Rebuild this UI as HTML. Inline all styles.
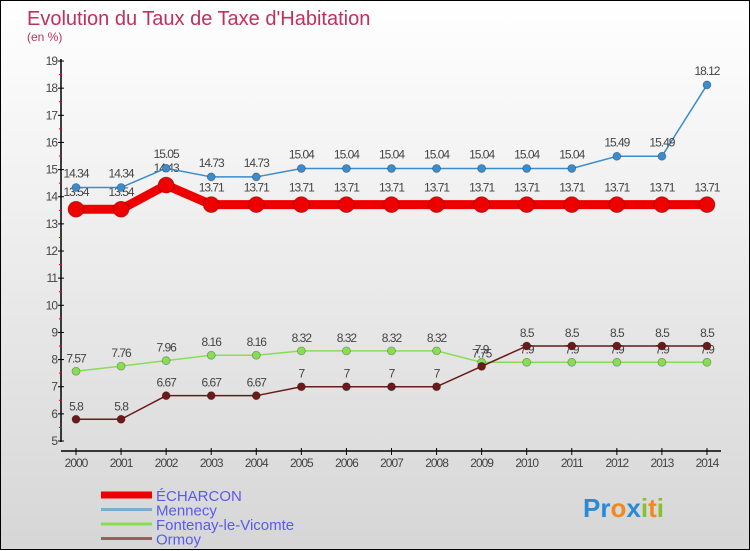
<!DOCTYPE html>
<html><head><meta charset="utf-8"><style>
body{margin:0;}
#c{width:748px;height:548px;border:1px solid #000;background:linear-gradient(#ffffff,#d6d6d6);position:relative;font-family:"Liberation Sans",sans-serif;}
svg{position:absolute;left:0;top:0}
</style></head><body>
<div id="c">
<svg id="s" width="750" height="550">
<text x="26" y="24" font-size="20" fill="#c0305a">Evolution du Taux de Taxe d'Habitation</text>
<text x="26" y="40" font-size="12" fill="#c0305a">(en %)</text>
</svg>
</div>
<script>
const years=[2000,2001,2002,2003,2004,2005,2006,2007,2008,2009,2010,2011,2012,2013,2014];
const echarcon=[13.54,13.54,14.43,13.71,13.71,13.71,13.71,13.71,13.71,13.71,13.71,13.71,13.71,13.71,13.71];
const mennecy=[14.34,14.34,15.05,14.73,14.73,15.04,15.04,15.04,15.04,15.04,15.04,15.04,15.49,15.49,18.12];
const fontenay=[7.57,7.76,7.96,8.16,8.16,8.32,8.32,8.32,8.32,7.9,7.9,7.9,7.9,7.9,7.9];
const ormoy=[5.8,5.8,6.67,6.67,6.67,7,7,7,7,7.75,8.5,8.5,8.5,8.5,8.5];
const yTicks=[5,6,7,8,9,10,11,12,13,14,15,16,17,18,19];
const seriesNames=["ÉCHARCON","Mennecy","Fontenay-le-Vicomte","Ormoy"];
const NS="http://www.w3.org/2000/svg",s=document.getElementById('s');
const X=i=>75+i*45.07, Y=v=>440-(v-5)*27.14;
function el(t,a,p){const e=document.createElementNS(NS,t);for(const k in a)e.setAttribute(k,a[k]);(p||s).appendChild(e);return e;}
// axes
let ax=el('line',{x1:60,y1:58,x2:60,y2:441,stroke:'#000','stroke-width':1.5});


let xa=el('line',{x1:60,y1:450,x2:720,y2:450,stroke:'#000','stroke-width':1.5});


yTicks.forEach((v,i)=>{
 el('line',{x1:57,y1:Y(v),x2:63,y2:Y(v),stroke:'#000'});
 if(i<yTicks.length-1) el('line',{x1:58,y1:Y(v+0.5),x2:61,y2:Y(v+0.5),stroke:'#e00'});
 let t=el('text',{x:56,y:Y(v)+4,'text-anchor':'end','font-size':12,fill:'#444','letter-spacing':'-1'});
 t.textContent=v;
 
 
});
years.forEach((y,i)=>{
 el('line',{x1:X(i),y1:447,x2:X(i),y2:454,stroke:'#000'});
 let t=el('text',{x:X(i),y:466,'text-anchor':'middle','font-size':12,fill:'#444','letter-spacing':'-1'});
 t.textContent=y;
 
 
});
function series(data,color,w,r,name,off){
 const g=el('g',{});
 
 
 el('polyline',{points:data.map((v,i)=>X(i)+','+Y(v)).join(' '),fill:'none',stroke:color,'stroke-width':w,'stroke-linejoin':'round'},g);
 data.forEach((v,i)=>{
  const c=el('circle',{cx:X(i),cy:Y(v),r:r,fill:color,stroke:'rgba(0,0,0,0.3)','stroke-width':0.8},g);
  
  
  const t=el('text',{x:X(i),y:Y(v)-off,'text-anchor':'middle','font-size':12,fill:'#444','letter-spacing':'-1'},g);
  t.textContent=v;
  
  
 });
}
series(fontenay,'#88dd55',1.5,4,'fontenay',9);
series(ormoy,'#6b1a1a',1.5,4,'ormoy',9);
series(echarcon,'#ee0000',9,8,'echarcon',13);
series(mennecy,'#3a8ccc',1.5,4,'mennecy',10);
// legend
const lc=['#ee0000','#7aaed0','#88dd55','#9a6060'],lw=[7,3,3,3];
seriesNames.forEach((n,i)=>{
 const y=494+i*14.5;
 const g=el('g',{});
 
 
 el('line',{x1:100,y1:y,x2:151,y2:y,stroke:lc[i],'stroke-width':lw[i]},g);
 const t=el('text',{x:155,y:y+6,'font-size':15,fill:'#5a5aee'},g);
 t.textContent=n;
});
const p=el('text',{x:582,y:516,'font-size':26,'font-weight':'bold',fill:'#2a8ad8'});


p.innerHTML='Pr<tspan fill="#f08a20">o</tspan><tspan fill="#2a8ad8">x</tspan><tspan fill="#8ac030">i</tspan><tspan fill="#f08a20">t</tspan><tspan fill="#8ac030">i</tspan>';
</script>
</body></html>
